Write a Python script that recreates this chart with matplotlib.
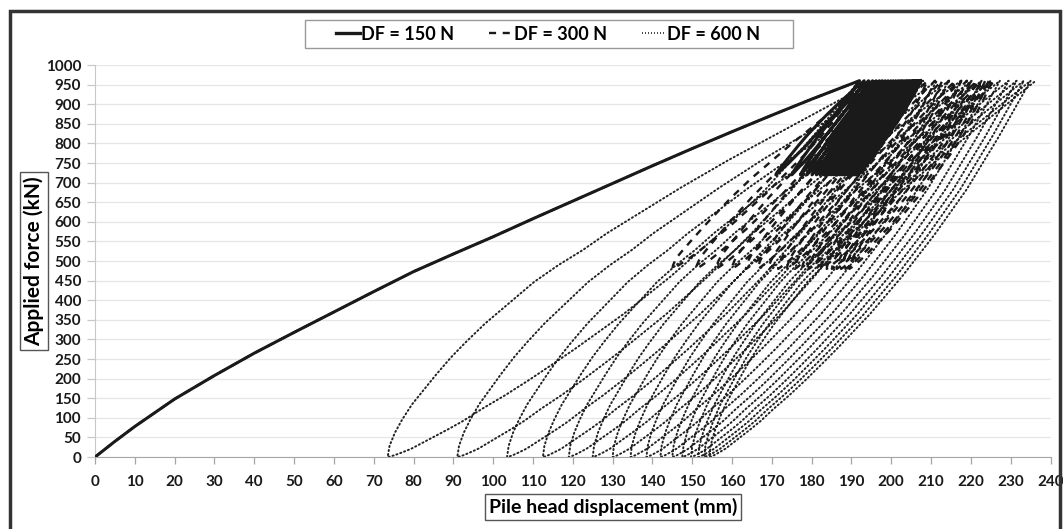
import numpy as np
import matplotlib.pyplot as plt
from matplotlib.lines import Line2D
from matplotlib.patches import Rectangle

plt.rcParams['font.family'] = ['Lato', 'DejaVu Sans']
plt.rcParams['font.weight'] = 'bold'

# first loading curve (shared by the three series)
backbone_x = [0, 5, 10, 20, 30, 40, 50, 60, 70, 80, 90, 100, 110, 120, 130, 140, 150, 160, 170, 180, 192]
backbone_y = [0, 40, 78, 148, 208, 265, 318, 370, 422, 473, 518, 562, 608, 653, 698, 743, 787, 830, 872, 913, 960]

peak_load = 960

# DF = 150 N : cycles between 720 and 960 kN
df150_min = 720
df150_peak_x = [192.0, 193.2, 194.3, 195.3, 196.2, 197.0, 197.8, 198.5, 199.2, 199.9, 200.5, 201.1,
                201.7, 202.2, 202.7, 203.2, 203.7, 204.1, 204.5, 204.9, 205.3, 205.6, 205.9, 206.2,
                206.5, 206.8, 207.0, 207.2, 207.4, 207.5]
df150_base_x = [171.0, 175.0, 177.2, 178.8, 180.1, 181.2, 182.1, 182.9, 183.6, 184.3, 184.9, 185.5,
                186.0, 186.5, 187.0, 187.4, 187.8, 188.2, 188.6, 189.0, 189.3, 189.6, 189.9, 190.2,
                190.5, 190.8, 191.1, 191.4, 191.7]

# DF = 300 N : cycles between 480 and 960 kN
df300_min = 480
df300_peak_x = [192.0, 194.5, 197.5, 200.2, 202.7, 205.0, 207.1, 209.1, 211.0, 212.8, 214.5,
                216.1, 217.6, 219.0, 220.3, 221.5, 222.6, 223.6, 224.5, 225.3, 226.0]
df300_base_x = [145.0, 151.0, 156.0, 160.0, 163.5, 166.5, 169.2, 171.6, 173.8, 175.8, 177.6,
                179.3, 180.9, 182.4, 183.8, 185.1, 186.3, 187.4, 188.5, 189.5]

# DF = 600 N : cycles between 0 and 960 kN
df600_min = 0
df600_peak_x = [192.0, 196.0, 200.5, 204.5, 208.0, 211.5, 214.5, 217.5, 220.2, 222.7, 225.0,
                227.3, 229.5, 231.5, 233.3, 235.0, 236.3]
df600_base_x = [73.5, 91.0, 103.5, 112.5, 119.0, 125.0, 130.0, 134.5, 138.5, 142.0, 145.0,
                147.5, 149.7, 151.5, 153.0, 154.3]

# loop branch shapes: fraction of displacement span -> fraction of load span
loop_t = [0, 0.004, 0.015, 0.03, 0.05, 0.075, 0.1, 0.13, 0.16, 0.2, 0.25, 0.3, 0.35, 0.4, 0.45, 0.5,
          0.6, 0.7, 0.8, 0.9, 0.95, 1.0]
df600_unload = [0, 0.001, 0.005, 0.012, 0.022, 0.038, 0.055, 0.075, 0.096, 0.128, 0.165, 0.205,
                0.247, 0.29, 0.335, 0.38, 0.48, 0.59, 0.71, 0.85, 0.925, 1.0]
df600_reload = [0, 0.03, 0.065, 0.1, 0.14, 0.18, 0.22, 0.265, 0.305, 0.355, 0.41, 0.465, 0.51, 0.55,
                0.595, 0.635, 0.715, 0.79, 0.86, 0.93, 0.965, 1.0]
df300_unload = [0, 0.002, 0.008, 0.017, 0.03, 0.045, 0.063, 0.085, 0.108, 0.14, 0.18, 0.22, 0.265,
                0.31, 0.355, 0.40, 0.50, 0.60, 0.71, 0.84, 0.915, 1.0]
df300_reload = [0, 0.02, 0.045, 0.07, 0.095, 0.125, 0.155, 0.19, 0.225, 0.27, 0.325, 0.38, 0.43,
                0.48, 0.525, 0.57, 0.66, 0.745, 0.83, 0.915, 0.96, 1.0]
df150_unload = [0, 0.003, 0.011, 0.023, 0.04, 0.06, 0.08, 0.105, 0.13, 0.165, 0.21, 0.255, 0.3,
                0.35, 0.4, 0.445, 0.54, 0.64, 0.75, 0.87, 0.935, 1.0]
df150_reload = [0, 0.008, 0.025, 0.045, 0.07, 0.1, 0.13, 0.165, 0.2, 0.245, 0.305, 0.36, 0.415,
                0.465, 0.515, 0.565, 0.66, 0.75, 0.835, 0.92, 0.96, 1.0]


def cycle_path(peaks, bases, lo, f_un, f_re):
    xs, ys = list(backbone_x), list(backbone_y)
    for i, xb in enumerate(bases):
        xp, xn = peaks[i], peaks[i + 1]
        # unloading from the peak down to the minimum load
        for tt, ff in zip(loop_t[::-1], f_un[::-1]):
            xs.append(xb + tt * (xp - xb))
            ys.append(lo + ff * (peak_load - lo))
        # reloading back up to the next peak
        for tt, ff in zip(loop_t[1:], f_re[1:]):
            xs.append(xb + tt * (xn - xb))
            ys.append(lo + ff * (peak_load - lo))
    return xs, ys


fig = plt.figure(figsize=(10.63, 5.29), dpi=100)
ax = fig.add_axes([95 / 1063, 0.136, 955.5 / 1063, 0.741])

x6, y6 = cycle_path(df600_peak_x, df600_base_x, df600_min, df600_unload, df600_reload)
x3, y3 = cycle_path(df300_peak_x, df300_base_x, df300_min, df300_unload, df300_reload)
x1, y1 = cycle_path(df150_peak_x, df150_base_x, df150_min, df150_unload, df150_reload)

ax.plot(x6, y6, color='#222222', lw=1.4, linestyle=(0, (0.6, 1.5)), dash_capstyle='round', zorder=2)
ax.plot(x3, y3, color='#1a1a1a', lw=1.7, linestyle=(0, (3, 2.8)), zorder=3)
ax.plot(x1, y1, color='#1a1a1a', lw=2.2, linestyle='-', zorder=4)

ax.set_xlim(0, 240)
ax.set_ylim(0, 1000)
ax.set_xticks(np.arange(0, 241, 10))
ax.set_yticks(np.arange(0, 1001, 50))
ax.yaxis.grid(True, color='#e6e6e6', lw=0.9)
ax.set_axisbelow(True)
for s in ['top', 'right']:
    ax.spines[s].set_visible(False)
ax.spines['left'].set_color('#c8c8c8')
ax.spines['bottom'].set_color('#a6a6a6')
ax.tick_params(axis='x', length=5, width=0.9, color='#a6a6a6', pad=8, labelsize=11)
ax.tick_params(axis='y', length=6, width=0.9, color='#c8c8c8', pad=4, labelsize=11)
for lab in ax.get_xticklabels() + ax.get_yticklabels():
    lab.set_fontweight('bold')
    lab.set_color('#1a1a1a')

box = dict(boxstyle='square,pad=0.2', fc='white', ec='#555555', lw=1.0)
fig.text(34 / 1063, 1 - 261 / 529, 'Applied force (kN)', rotation=90, ha='center', va='center',
         fontsize=15, fontweight='bold', bbox=box)
fig.text(613 / 1063, 1 - 507 / 529, 'Pile head displacement (mm)', ha='center', va='center',
         fontsize=14, fontweight='bold', bbox=box)

handles = [Line2D([], [], color='#1a1a1a', lw=2.4),
           Line2D([], [], color='#1a1a1a', lw=1.7, linestyle=(0, (3, 2.8))),
           Line2D([], [], color='#222222', lw=1.2, linestyle=(0, (0.6, 1.2)))]
labels = ['DF = 150 N', 'DF = 300 N', 'DF = 600 N']
leg = fig.legend(handles, labels, loc='center', bbox_to_anchor=(548 / 1063, 1 - 34 / 529), ncol=3,
                 frameon=False, handlelength=1.3, handletextpad=0.1,
                 columnspacing=1.9, borderpad=0.2, prop={'weight': 'bold', 'size': 13})
# legend box, wider than the entries as in the original
fig.patches.append(Rectangle((305 / 1063, 1 - 48 / 529), 488 / 1063, 28 / 529, transform=fig.transFigure,
                             fill=False, ec='#999999', lw=1.0))

fig.patches.append(Rectangle((9.5 / 1063, -0.02), 1050 / 1063, 1.0, transform=fig.transFigure,
                             fill=False, ec='#333333', lw=2.5))

fig.savefig('out.png', dpi=100)
